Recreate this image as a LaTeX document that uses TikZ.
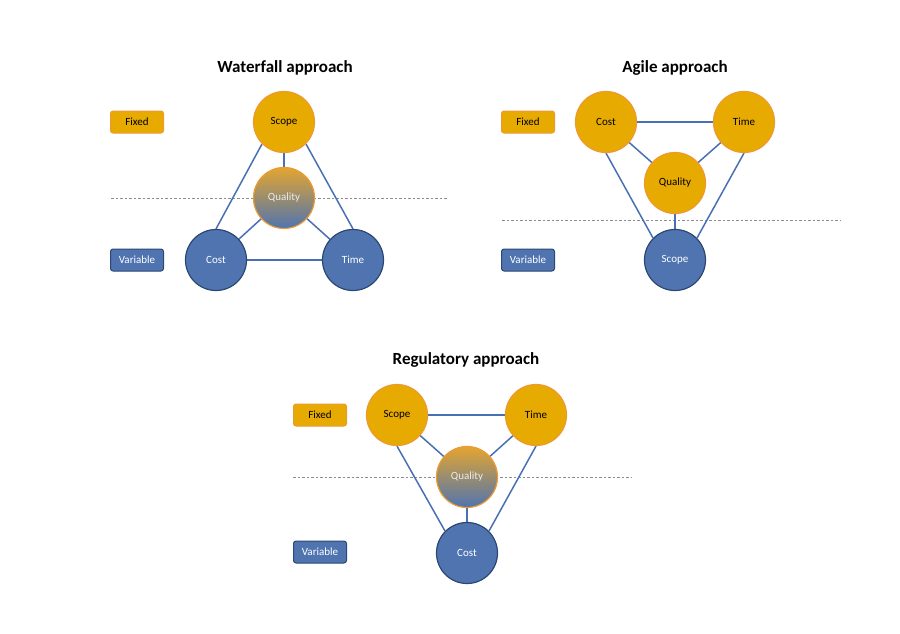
\documentclass[tikz,border=0pt]{standalone}
\usepackage{fontspec}
\setmainfont{Carlito}
\usetikzlibrary{backgrounds}
\definecolor{gold}{HTML}{E6AA00}
\definecolor{goldline}{HTML}{EE9A33}
\definecolor{goldtop}{HTML}{E3A530}
\definecolor{midq}{HTML}{AE968C}
\definecolor{bluefill}{HTML}{4F74B0}
\definecolor{blueline}{HTML}{2C4872}
\definecolor{edgeblue}{HTML}{4A70B4}
\definecolor{dashgray}{HTML}{8C8C8C}
\tikzset{
  fixedc/.style={circle, minimum size=61pt, inner sep=0pt, fill=gold, draw=goldline, line width=1.2pt, font=\fontsize{11}{13}\selectfont, text=black},
  varc/.style={circle, minimum size=61pt, inner sep=0pt, fill=bluefill, draw=blueline, line width=1.2pt, font=\fontsize{11}{13}\selectfont, text=white},
  mixc/.style={circle, minimum size=61pt, inner sep=0pt, top color=goldtop, middle color=midq, bottom color=bluefill, draw=goldline, line width=1.2pt, font=\fontsize{11}{13}\selectfont, text=white!92!black},
  fixedbox/.style={rounded corners=2.5pt, minimum width=53pt, minimum height=22pt, inner sep=0pt, fill=gold, draw=goldline, line width=1pt, font=\fontsize{11}{13}\selectfont, text=black},
  varbox/.style={rounded corners=2.5pt, minimum width=53pt, minimum height=22pt, inner sep=0pt, fill=bluefill, draw=blueline, line width=1pt, font=\fontsize{11}{13}\selectfont, text=white},
  ttl/.style={font=\fontsize{17}{20}\selectfont\bfseries, text=black},
  edge/.style={draw=edgeblue, line width=1.5pt},
  sep/.style={draw=dashgray, line width=0.9pt, dash pattern=on 2.5pt off 2pt}
}
\begin{document}
\begin{tikzpicture}[x=1pt,y=-1pt]
\useasboundingbox (0,0) rectangle (900,633);
% ---------- Waterfall ----------
\node[ttl] (wt) at (285,68) {Waterfall approach};
\node[fixedbox] (wf) at (137,122) {Fixed};
\node[varbox] (wv) at (137,260) {Variable};
\node[fixedc] (ws) at (284,122) {Scope};
\node[mixc] (wq) at (284,198) {Quality};
\node[varc] (wc) at (216,260) {Cost};
\node[varc] (wti) at (353,260) {Time};
\coordinate (wl1) at (111,198);
\coordinate (wl2) at (448,198);
% ---------- Agile ----------
\node[ttl] (at) at (675,68) {Agile approach};
\node[fixedbox] (af) at (528,122) {Fixed};
\node[varbox] (av) at (528,260) {Variable};
\node[fixedc] (ac) at (606,122) {Cost};
\node[fixedc] (ati) at (744,122) {Time};
\node[fixedc] (aq) at (675,183) {Quality};
\node[varc] (as) at (675,260) {Scope};
\coordinate (al1) at (502,220);
\coordinate (al2) at (840,220);
% ---------- Regulatory ----------
\node[ttl] (rt) at (466,360) {Regulatory approach};
\node[fixedbox] (rf) at (320,415) {Fixed};
\node[varbox] (rv) at (320,552) {Variable};
\node[fixedc] (rs) at (397,415) {Scope};
\node[fixedc] (rti) at (536,415) {Time};
\node[mixc] (rq) at (467,477) {Quality};
\node[varc] (rc) at (467,553) {Cost};
\coordinate (rl1) at (293,477);
\coordinate (rl2) at (631,477);
\begin{pgfonlayer}{background}
  \draw[sep] (wl1) -- (wl2);
  \draw[sep] (al1) -- (al2);
  \draw[sep] (rl1) -- (rl2);
  \draw[edge] (ws.225) -- (wc.north);
  \draw[edge] (ws.-45) -- (wti.north);
  \draw[edge] (ws.center) -- (wq.center);
  \draw[edge] (wq.center) -- (wc.center);
  \draw[edge] (wq.center) -- (wti.center);
  \draw[edge] (wc.center) -- (wti.center);
  \draw[edge] (ac.center) -- (ati.center);
  \draw[edge] (ac.center) -- (aq.center);
  \draw[edge] (ati.center) -- (aq.center);
  \draw[edge] (ac.south) -- (as.135);
  \draw[edge] (ati.south) -- (as.45);
  \draw[edge] (aq.center) -- (as.center);
  \draw[edge] (rs.center) -- (rti.center);
  \draw[edge] (rs.center) -- (rq.center);
  \draw[edge] (rti.center) -- (rq.center);
  \draw[edge] (rs.south) -- (rc.135);
  \draw[edge] (rti.south) -- (rc.45);
  \draw[edge] (rq.center) -- (rc.center);
\end{pgfonlayer}
\end{tikzpicture}
\end{document}
